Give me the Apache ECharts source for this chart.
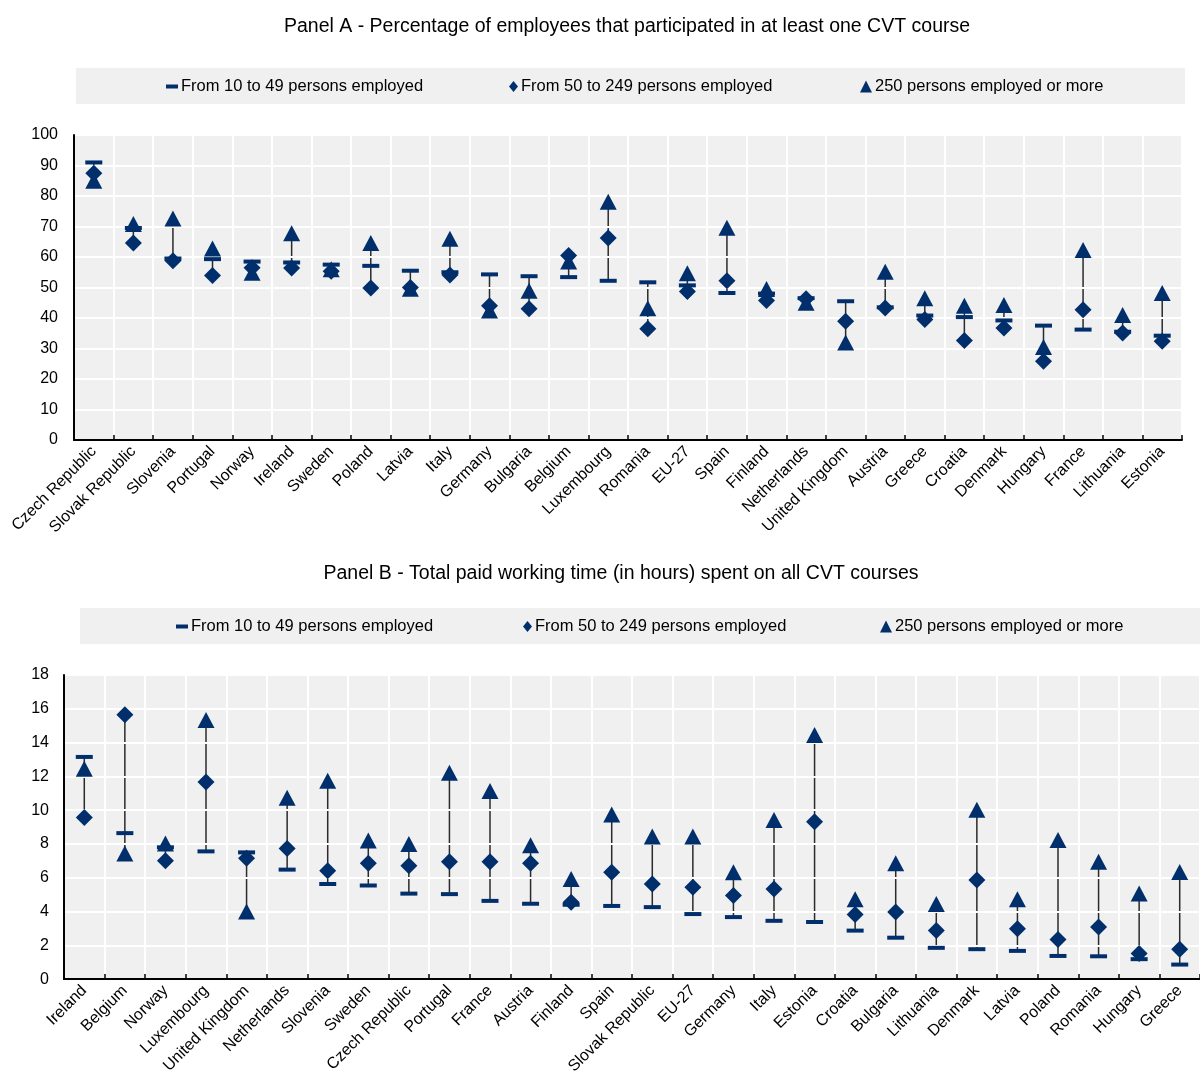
<!DOCTYPE html>
<html>
<head>
<meta charset="utf-8">
<script src="https://cdn.jsdelivr.net/npm/echarts@6/dist/echarts.min.js"></script>
<style>
html,body{margin:0;padding:0;background:#fff;}
#chart{width:1200px;height:1077px;}
</style>
</head>
<body>
<div id="chart"></div>
<script>
// ---------- DATA ----------
const seriesNames = ['From 10 to 49 persons employed', 'From 50 to 249 persons employed', '250 persons employed or more'];

const titleA = 'Panel A - Percentage of employees that participated in at least one CVT course';
const categoriesA = ['Czech Republic','Slovak Republic','Slovenia','Portugal','Norway','Ireland','Sweden','Poland','Latvia','Italy','Germany','Bulgaria','Belgium','Luxembourg','Romania','EU-27','Spain','Finland','Netherlands','United Kingdom','Austria','Greece','Croatia','Denmark','Hungary','France','Lithuania','Estonia'];
const smallA  = [91, 69.5, 59.5, 59.3, 58.5, 58.2, 57.5, 57.1, 55.5, 55, 54.3, 53.7, 53.4, 52.2, 51.7, 50.7, 48.2, 48, 46.5, 45.5, 43.5, 40.8, 40.3, 39.2, 37.5, 36.2, 35.5, 34.2];
const mediumA = [87.5, 64.6, 58.8, 53.9, 56.5, 56.4, 55.3, 49.8, 50, 54.1, 44, 43, 60.5, 66.2, 36.5, 48.7, 52.2, 45.7, 46.3, 38.9, 43.3, 39.5, 32.6, 36.7, 25.8, 42.7, 35.1, 32.4];
const largeA  = [85, 70.8, 72.6, 62.8, 54.8, 67.8, 56, 64.6, 49.6, 66, 42.5, 48.9, 58.5, 78.1, 43.2, 54.7, 69.6, 49.5, 45, 32, 55.2, 46.5, 44, 44.3, 30.5, 62.3, 41, 48.2];
const yTicksA = {min: 0, max: 100, interval: 10};

const titleB = 'Panel B - Total paid working time (in hours) spent on all CVT courses';
const categoriesB = ['Ireland','Belgium','Norway','Luxembourg','United Kingdom','Netherlands','Slovenia','Sweden','Czech Republic','Portugal','France','Austria','Finland','Spain','Slovak Republic','EU-27','Germany','Italy','Estonia','Croatia','Bulgaria','Lithuania','Denmark','Latvia','Poland','Romania','Hungary','Greece'];
const smallB  = [13.15, 8.64, 7.8, 7.56, 7.5, 6.48, 5.63, 5.54, 5.06, 5.03, 4.63, 4.46, 4.4, 4.33, 4.26, 3.85, 3.67, 3.45, 3.38, 2.87, 2.45, 1.85, 1.77, 1.67, 1.37, 1.35, 1.18, 0.86];
const mediumB = [9.56, 15.65, 7.0, 11.66, 7.15, 7.73, 6.42, 6.85, 6.71, 6.95, 6.95, 6.85, 4.55, 6.32, 5.63, 5.44, 4.95, 5.34, 9.32, 3.83, 3.97, 2.87, 5.87, 2.98, 2.34, 3.08, 1.51, 1.77];
const largeB  = [12.45, 7.44, 8.03, 15.33, 4.0, 10.74, 11.74, 8.2, 7.99, 12.21, 11.13, 7.93, 5.93, 9.74, 8.44, 8.44, 6.32, 9.42, 14.45, 4.73, 6.85, 4.44, 10.03, 4.73, 8.24, 6.95, 5.06, 6.34];
const yTicksB = {min: 0, max: 18, interval: 2};

// ---------- STYLE ----------
const NAVY = '#002F6C';
const PLOT_BG = '#f0f0f0';
const NARROW = '"Liberation Sans Narrow", "Arial Narrow", "Liberation Sans", sans-serif';
const ARIAL = '"Liberation Sans", Arial, sans-serif';

const chart = echarts.init(document.getElementById('chart'), null, {renderer: 'canvas'});

function xAxisCfg(cats, gridIndex) {
  return {
    type: 'category', gridIndex, data: cats, boundaryGap: true,
    axisLine: {show: true, lineStyle: {color: '#000', width: 2}},
    axisTick: {show: true, inside: true, length: 5, interval: 0, lineStyle: {color: '#000', width: 1.5}},
    axisLabel: {interval: 0, rotate: 45, fontSize: 16, fontFamily: ARIAL, color: '#000', margin: 9},
    splitLine: {show: true, interval: 0, lineStyle: {color: '#fff', width: 2}},
    z: 3
  };
}
function yAxisCfg(t, gridIndex, margin) {
  return {
    type: 'value', gridIndex, min: t.min, max: t.max, interval: t.interval,
    axisLine: {show: true, lineStyle: {color: '#000', width: 2}},
    axisTick: {show: false},
    axisLabel: {fontSize: 16, fontFamily: ARIAL, color: '#000', margin},
    splitLine: {show: true, lineStyle: {color: '#fff', width: 2}},
    z: 3
  };
}

function rangeSeries(small, medium, large, idx) {
  const data = small.map((v, i) => {
    const vals = [v, medium[i], large[i]];
    return [i, Math.min(...vals), Math.max(...vals)];
  });
  return {
    type: 'custom', xAxisIndex: idx, yAxisIndex: idx, silent: true, z: 2,
    renderItem: function (params, api) {
      const p1 = api.coord([api.value(0), api.value(1)]);
      const p2 = api.coord([api.value(0), api.value(2)]);
      return {type: 'line', shape: {x1: p1[0], y1: p1[1], x2: p2[0], y2: p2[1]},
              style: {stroke: '#2a2a2a', lineWidth: 1.5}};
    },
    encode: {x: 0, y: [1, 2]},
    data
  };
}
function markerSeries(small, medium, large, idx) {
  const st = {color: NAVY, opacity: 1};
  return [
    {name: seriesNames[0], type: 'scatter', xAxisIndex: idx, yAxisIndex: idx, symbol: 'rect', symbolSize: [17, 4],
     itemStyle: st, data: small, z: 4, silent: true},
    {name: seriesNames[1], type: 'scatter', xAxisIndex: idx, yAxisIndex: idx, symbol: 'diamond', symbolSize: [17, 17],
     itemStyle: st, data: medium, z: 4, silent: true},
    {name: seriesNames[2], type: 'scatter', xAxisIndex: idx, yAxisIndex: idx, symbol: 'triangle', symbolSize: [17, 16],
     itemStyle: st, data: large, z: 4, silent: true}
  ];
}

function legendItem(name, icon, w, h, left, top) {
  return {
    data: [{name, icon}], left, top, padding: 0, itemWidth: w, itemHeight: h,
    selectedMode: false, orient: 'horizontal',
    textStyle: {fontSize: 16.5, fontFamily: NARROW, color: '#000', padding: [0, 0, 0, -2]},
    itemStyle: {color: NAVY, opacity: 1}
  };
}

const option = {
  animation: false,
  backgroundColor: '#fff',
  graphic: [
    {type: 'rect', shape: {x: 76, y: 68, width: 1109, height: 36}, style: {fill: PLOT_BG}, z: -10},
    {type: 'rect', shape: {x: 80, y: 608, width: 1120, height: 36}, style: {fill: PLOT_BG}, z: -10},
    {type: 'text', x: 627, y: 26, scaleX: 0.975, style: {text: titleA, font: '20px ' + NARROW, fill: '#000', textAlign: 'center', textVerticalAlign: 'middle'}},
    {type: 'text', x: 621, y: 573, scaleX: 0.975, style: {text: titleB, font: '20px ' + NARROW, fill: '#000', textAlign: 'center', textVerticalAlign: 'middle'}}
  ],
  legend: [
    legendItem(seriesNames[0], 'rect', 12, 4, 166, 78),
    legendItem(seriesNames[1], 'diamond', 9, 11, 509, 78),
    legendItem(seriesNames[2], 'triangle', 12, 12, 860, 78),
    legendItem(seriesNames[0], 'rect', 12, 4, 176, 618),
    legendItem(seriesNames[1], 'diamond', 9, 11, 523, 618),
    legendItem(seriesNames[2], 'triangle', 12, 12, 880, 618)
  ],
  grid: [
    {left: 74, top: 135, width: 1108, height: 305, show: true, backgroundColor: PLOT_BG, borderWidth: 0, containLabel: false},
    {left: 64, top: 675, width: 1142, height: 305, show: true, backgroundColor: PLOT_BG, borderWidth: 0, containLabel: false}
  ],
  xAxis: [xAxisCfg(categoriesA, 0), xAxisCfg(categoriesB, 1)],
  yAxis: [yAxisCfg(yTicksA, 0, 16), yAxisCfg(yTicksB, 1, 15)],
  series: [
    rangeSeries(smallA, mediumA, largeA, 0),
    ...markerSeries(smallA, mediumA, largeA, 0),
    rangeSeries(smallB, mediumB, largeB, 1),
    ...markerSeries(smallB, mediumB, largeB, 1)
  ]
};
chart.setOption(option);
</script>
</body>
</html>
